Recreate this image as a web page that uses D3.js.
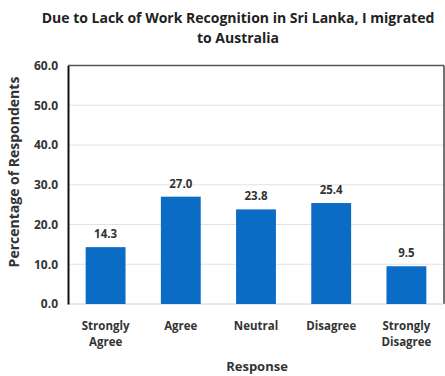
<!DOCTYPE html>
<html>
<head>
<meta charset="utf-8">
<script src="https://cdn.jsdelivr.net/npm/d3@7"></script>
<style>
  html, body { margin: 0; padding: 0; background: #fff; }
  svg { display: block; font-family: "Open Sans", "Liberation Sans", sans-serif; }
</style>
</head>
<body>
<svg id="chart" width="445" height="376"></svg>
<script>
// Survey responses and their share of respondents (%)
const categories = [["Strongly", "Agree"], ["Agree"], ["Neutral"], ["Disagree"], ["Strongly", "Disagree"]];
const values = [14.3, 27.0, 23.8, 25.4, 9.5];
const yTicks = [0, 10, 20, 30, 40, 50, 60];
const titleLines = ["Due to Lack of Work Recognition in Sri Lanka, I migrated", "to Australia"];

const svg = d3.select("#chart");
const margin = { top: 65.5, right: 1, bottom: 72, left: 68 };
const W = 445, H = 376;
const innerW = W - margin.left - margin.right;
const innerH = H - margin.top - margin.bottom;

const keys = categories.map(c => c.join(" "));
const x = d3.scaleBand().domain(keys).range([0, innerW]).paddingInner(0.47).paddingOuter(0.235);
const y = d3.scaleLinear().domain([0, 60]).range([innerH, 0]);

const g = svg.append("g").attr("transform", `translate(${margin.left},${margin.top})`);

// gridlines
g.append("g")
  .selectAll("line")
  .data(yTicks.filter(t => t > 0 && t < 60))
  .join("line")
  .attr("x1", 0).attr("x2", innerW)
  .attr("y1", d => y(d)).attr("y2", d => y(d))
  .attr("stroke", "#e2e2e2").attr("stroke-width", 1);

// plot frame: top and right edges
g.append("line").attr("x1", 0).attr("x2", innerW).attr("y1", 0).attr("y2", 0)
  .attr("stroke", "#555").attr("stroke-width", 1.5);
g.append("line").attr("x1", innerW).attr("x2", innerW).attr("y1", 0).attr("y2", innerH)
  .attr("stroke", "#444").attr("stroke-width", 1.5);
g.append("line").attr("x1", 0).attr("x2", innerW).attr("y1", innerH).attr("y2", innerH)
  .attr("stroke", "#d0d0d0").attr("stroke-width", 1);

// bars
g.selectAll("rect.bar")
  .data(values)
  .join("rect")
  .attr("class", "bar")
  .attr("x", (d, i) => x(keys[i]))
  .attr("width", x.bandwidth())
  .attr("y", d => y(d))
  .attr("height", d => innerH - y(d))
  .attr("fill", "#0a6cc4");

// value labels
g.selectAll("text.val")
  .data(values)
  .join("text")
  .attr("class", "val")
  .attr("x", (d, i) => x(keys[i]) + x.bandwidth() / 2)
  .attr("y", d => y(d) - 9)
  .attr("text-anchor", "middle")
  .attr("font-size", 11.5).attr("font-weight", 700).attr("fill", "#333")
  .text(d => d.toFixed(1));

// y axis
const yAxis = g.append("g")
  .call(d3.axisLeft(y).tickValues(yTicks).tickFormat(d3.format(".1f")).tickSize(0).tickPadding(10));
yAxis.select(".domain").attr("stroke", "#111").attr("stroke-width", 2);
yAxis.selectAll("text").attr("font-size", 12).attr("font-weight", 700).attr("fill", "#333")
  .attr("font-family", "'Open Sans', sans-serif");

// x axis category labels (two-line where needed)
const xAxis = g.append("g").attr("transform", `translate(0,${innerH})`)
  .call(d3.axisBottom(x).tickSize(0).tickFormat(""));
xAxis.select(".domain").remove();
xAxis.selectAll(".tick").each(function (d, i) {
  const t = d3.select(this).append("text")
    .attr("text-anchor", "middle")
    .attr("font-size", 11.5).attr("font-weight", 700).attr("fill", "#333")
    .attr("font-family", "'Open Sans', sans-serif");
  categories[i].forEach((line, j) => {
    t.append("tspan").attr("x", 0).attr("y", 26 + j * 16).text(line);
  });
});

// axis titles
svg.append("text")
  .attr("x", 257).attr("y", 371)
  .attr("text-anchor", "middle")
  .attr("font-size", 13).attr("font-weight", 700).attr("fill", "#333")
  .text("Response");

svg.append("text")
  .attr("transform", `translate(19,172) rotate(-90)`)
  .attr("text-anchor", "middle")
  .attr("font-size", 14).attr("font-weight", 700).attr("fill", "#333")
  .text("Percentage of Respondents");

// chart title
svg.append("text")
  .attr("text-anchor", "middle")
  .attr("font-size", 14).attr("font-weight", 700).attr("fill", "#222")
  .selectAll("tspan")
  .data(titleLines)
  .join("tspan")
  .attr("x", 238)
  .attr("y", (d, i) => 23 + i * 20)
  .text(d => d);
</script>
</body>
</html>
